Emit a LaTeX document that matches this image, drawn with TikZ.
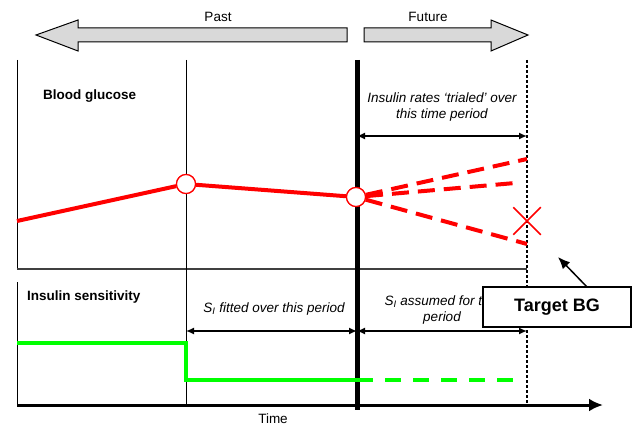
\documentclass[tikz,border=0pt]{standalone}
\usepackage{fontspec}
\setmainfont{Liberation Sans}
\usetikzlibrary{shapes.misc,arrows.meta}
\definecolor{bg-red}{rgb}{1.00,0.00,0.00}
\definecolor{si-green}{rgb}{0.00,1.00,0.00}
\definecolor{band-gray}{rgb}{0.85,0.85,0.85}
\tikzset{
  bgcirc/.style={circle, draw=bg-red, fill=white, line width=1.2pt, minimum size=19pt, inner sep=0pt},
  bgline/.style={color=bg-red, line width=4pt},
  bgdash/.style={color=bg-red, line width=4pt, dash pattern=on 17pt off 9pt},
  siline/.style={color=si-green, line width=4pt},
  sidash/.style={color=si-green, line width=4pt, dash pattern=on 16pt off 12pt},
  spanarrow/.style={{Latex[length=8pt,width=7pt]}-{Latex[length=8pt,width=7pt]}, line width=1.5pt},
  band/.style={fill=band-gray, draw=black, line width=1pt},
  lbl/.style={font=\fontsize{13.5}{16}\selectfont},
  ital/.style={font=\fontsize{13.5}{16}\selectfont\itshape, align=center},
  paneltitle/.style={font=\fontsize{13.5}{16}\selectfont\bfseries, anchor=west, inner sep=0pt}
}
\begin{document}
\begin{tikzpicture}[x=1pt, y=-1pt]
    \useasboundingbox (0,0) rectangle (639,425);
    % past / future bands
    \draw[band] (36,35) -- (78,20) -- (78,28) -- (347,28) -- (347,42) -- (78,42) -- (78,51) -- cycle;
    \draw[band] (364,28) -- (491,28) -- (491,20) -- (528,35) -- (491,51) -- (491,42) -- (364,42) -- cycle;
    \node[lbl] (past) at (218,17) {Past};
    \node[lbl] (future) at (428,17) {Future};
    % frame
    \draw[line width=1pt] (17,60) -- (17,269);
    \draw[line width=1pt] (17,282) -- (17,405);
    \draw[line width=1.2pt, color=black!75] (17,269) -- (527,269);
    \draw[line width=0.8pt] (186,60) -- (186,405);
    \draw[line width=1.2pt, dash pattern=on 3pt off 2pt] (527,60) -- (527,405);
    \draw[line width=5pt] (357,60) -- (357,410);
    \draw[line width=3pt, -{Latex[length=14pt,width=13pt]}] (17,405) -- (603,405);
    \node[lbl, anchor=base, inner sep=0pt] (time) at (273,423) {Time};
    % blood glucose panel
    \node[paneltitle] (bgtitle) at (43,96) {Blood glucose};
    \coordinate (bgA) at (17,221);
    \node[bgcirc] (bgB) at (186,184) {};
    \node[bgcirc] (bgC) at (356,197) {};
    \coordinate (trialU) at (527,159);
    \coordinate (trialM) at (515,183);
    \coordinate (trialL) at (527,244);
    \draw[bgline] (bgA) -- (bgB);
    \draw[bgline] (bgB) -- (bgC);
    \draw[bgdash] (bgC) -- (trialU);
    \draw[bgdash] (bgC) -- (trialM);
    \draw[bgdash] (bgC) -- (trialL);
    \node[bgcirc] at (bgB) {};
    \node[bgcirc] at (bgC) {};
    \node[cross out, draw=bg-red, line width=1.5pt, minimum size=26pt, inner sep=0pt] (xmark) at (527,221) {};
    \node[ital] (trialtext) at (442,107) {Insulin rates `trialed' over\\this time period};
    \coordinate (trialS) at (357,136);
    \coordinate (trialE) at (527,136);
    \draw[spanarrow] (trialS) -- (trialE);
    % insulin sensitivity panel
    \node[paneltitle] (sititle) at (27,297) {Insulin sensitivity};
    \coordinate (siA) at (17,343);
    \coordinate (siB) at (186,343);
    \coordinate (siC) at (186,380);
    \coordinate (siD) at (357,380);
    \coordinate (siE) at (515,380);
    \draw[siline] (siA) -- (siB) -- (siC) -- (siD);
    \draw[sidash] (siD) -- (siE);
    \node[ital] (fittext) at (274,309) {S\textsubscript{I} fitted over this period};
    \coordinate (fitS) at (186,331);
    \coordinate (fitE) at (357,331);
    \draw[spanarrow] (fitS) -- (fitE);
    \node[ital] (assumetext) at (442,310) {S\textsubscript{I} assumed for this\\period};
    \coordinate (assumeS) at (357,331);
    \coordinate (assumeE) at (527,331);
    \draw[spanarrow] (assumeS) -- (assumeE);
    % target
    \node[draw, fill=white, line width=1.5pt, minimum width=148pt, minimum height=40pt,
          font=\fontsize{18}{20}\selectfont\bfseries] (target) at (557,307) {Target BG};
    \coordinate (tgtfoot) at (587,287);
    \coordinate (tgtend) at (558,257);
    \draw[line width=1.5pt, -{Latex[length=12pt,width=10pt]}] (tgtfoot) -- (tgtend);
  \end{tikzpicture}
\end{document}
